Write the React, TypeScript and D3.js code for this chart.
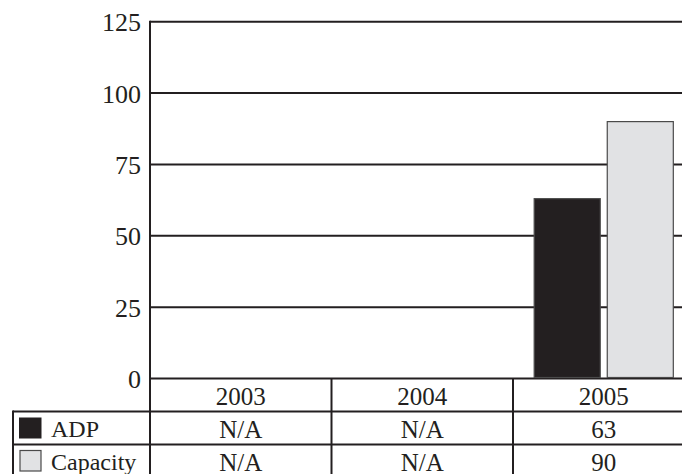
import React from "react";
import * as d3 from "d3";

const years = ["2003", "2004", "2005"];
const seriesNames = ["ADP", "Capacity"];
const adpValues: (number | null)[] = [null, null, 63];
const capacityValues: (number | null)[] = [null, null, 90];
const yTicks = [0, 25, 50, 75, 100, 125];

const W = 682;
const H = 474;
const INK = "#231f20";
const FILLS = [INK, "#e1e2e4"];
const FONT = "'Liberation Serif', 'DejaVu Serif', serif";
const FS = 25;

export default function App() {
  const left = 150;
  const top = 21.7;
  const bottom = 378.5;
  const colW = 181.5;
  const y = d3.scaleLinear().domain([0, 125]).range([bottom, top]);
  const x = d3.scaleBand<string>().domain(years).range([left, left + colW * years.length]).padding(0);
  const xs = d3
    .scaleBand<string>()
    .domain(seriesNames)
    .range([0, x.bandwidth()])
    .paddingInner(0.096)
    .paddingOuter(0.29);
  const series = [adpValues, capacityValues];
  const rowH = 33;
  const row1 = bottom;
  const row2 = bottom + rowH;
  const row3 = bottom + rowH * 2;
  const legendLeft = 13;
  const sw = 2;

  return (
    <svg
      width={W}
      height={H}
      style={{ position: "absolute", left: 0, top: 0, background: "#fff" }}
      fontFamily={FONT}
    >
      {yTicks.map((t) => (
        <line key={"g" + t} x1={left} x2={W} y1={y(t)} y2={y(t)} stroke={INK} strokeWidth={sw} />
      ))}
      <line x1={left} x2={left} y1={y(125) - 1} y2={H} stroke={INK} strokeWidth={sw} />
      {yTicks.map((t) => (
        <text
          key={"t" + t}
          x={left - 9}
          y={y(t) + 1}
          textAnchor="end"
          dominantBaseline="central"
          fontSize={26}
          fill={INK}
        >
          {t}
        </text>
      ))}
      {years.map((yr, i) =>
        series.map((vals, si) => {
          const v = vals[i];
          if (v == null) return null;
          return (
            <rect
              key={yr + si}
              x={(x(yr) as number) + (xs(seriesNames[si]) as number)}
              y={y(v)}
              width={xs.bandwidth()}
              height={y(0) - y(v) - 1}
              fill={FILLS[si]}
              stroke="#4a4a4a"
              strokeWidth={1.2}
            />
          );
        })
      )}
      <line x1={legendLeft} x2={W} y1={row2} y2={row2} stroke={INK} strokeWidth={sw} />
      <line x1={legendLeft} x2={W} y1={row3} y2={row3} stroke={INK} strokeWidth={sw} />
      <line x1={legendLeft} x2={legendLeft} y1={row2 - 1} y2={H} stroke={INK} strokeWidth={sw} />
      {years.slice(1).map((yr) => (
        <line key={"v" + yr} x1={x(yr)} x2={x(yr)} y1={row1} y2={H} stroke={INK} strokeWidth={sw} />
      ))}
      {years.map((yr) => (
        <text
          key={"h" + yr}
          x={(x(yr) as number) + colW / 2}
          y={row1 + rowH / 2 + 1}
          textAnchor="middle"
          dominantBaseline="central"
          fontSize={FS}
          fill={INK}
        >
          {yr}
        </text>
      ))}
      {series.map((vals, si) => {
        const ry = (si === 0 ? row2 : row3) + rowH / 2;
        return (
          <g key={"r" + si}>
            <rect
              x={si === 0 ? 19 : 20}
              y={ry - 10.5}
              width={si === 0 ? 22.5 : 21}
              height={si === 0 ? 21 : 20.5}
              fill={FILLS[si]}
              stroke={si === 0 ? "none" : "#4a4a4a"}
              strokeWidth={1.2}
            />
            <text x={51} y={ry + 1} dominantBaseline="central" fontSize={24} fill={INK}>
              {seriesNames[si]}
            </text>
            {years.map((yr, i) => (
              <text
                key={yr}
                x={(x(yr) as number) + colW / 2}
                y={ry + 1}
                textAnchor="middle"
                dominantBaseline="central"
                fontSize={FS}
                fill={INK}
              >
                {vals[i] == null ? "N/A" : vals[i]}
              </text>
            ))}
          </g>
        );
      })}
    </svg>
  );
}
